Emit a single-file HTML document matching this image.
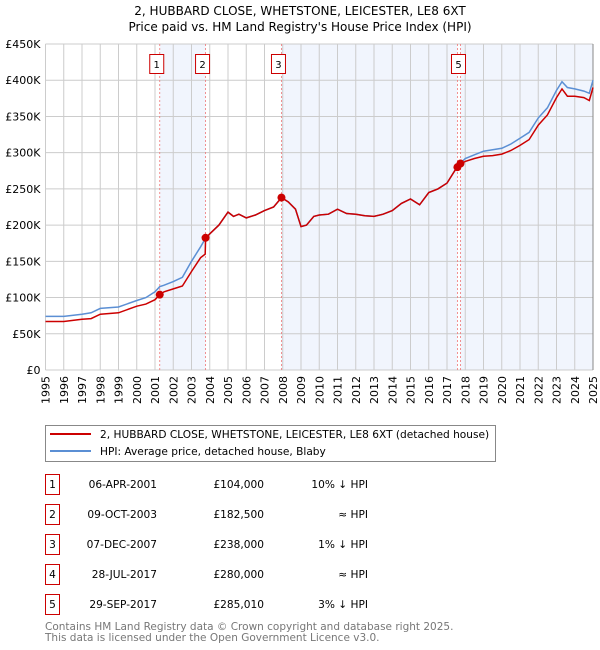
<!DOCTYPE html>
<html><head><meta charset="utf-8"><style>
body{margin:0;background:#fff;}
svg{display:block;font-family:"DejaVu Sans","Liberation Sans",sans-serif;}
</style></head><body>
<svg id="c" width="600" height="650">
<text x="300" y="15" text-anchor="middle" font-size="12">2, HUBBARD CLOSE, WHETSTONE, LEICESTER, LE8 6XT</text>
<text x="300" y="31" text-anchor="middle" font-size="12">Price paid vs. HM Land Registry's House Price Index (HPI)</text>
<g id="plot"></g>
<g>
<rect x="45.5" y="425.5" width="450" height="36" fill="#fff" stroke="#888"/>
<line x1="50" y1="434" x2="91" y2="434" stroke="#cc0000" stroke-width="2"/>
<text x="100" y="438" font-size="10.6">2, HUBBARD CLOSE, WHETSTONE, LEICESTER, LE8 6XT (detached house)</text>
<line x1="50" y1="451" x2="91" y2="451" stroke="#5b8fd4" stroke-width="2"/>
<text x="100" y="455" font-size="10.6">HPI: Average price, detached house, Blaby</text>
</g>
<g id="table"></g>
<text x="45" y="630" font-size="10.5" fill="#777">Contains HM Land Registry data © Crown copyright and database right 2025.</text>
<text x="45" y="641" font-size="10.5" fill="#777">This data is licensed under the Open Government Licence v3.0.</text>
</svg>
<script>
const hpiYears=[1995,1996,1997,1997.5,1998,1999,2000,2000.5,2001,2001.26,2001.5,2002,2002.5,2003,2003.5,2003.77,2004,2004.5,2005,2005.3,2005.6,2006,2006.5,2007,2007.5,2007.93,2008.3,2008.7,2009,2009.3,2009.7,2010,2010.5,2011,2011.5,2012,2012.5,2013,2013.5,2014,2014.5,2015,2015.5,2016,2016.5,2017,2017.6,2018,2018.5,2019,2019.5,2020,2020.5,2021,2021.5,2022,2022.5,2023,2023.3,2023.6,2024,2024.5,2024.8,2025];
const hpiValues=[74,74,77,79,85,87,96,100,108,115,117,122,128,150,170,182,188,200,218,212,215,210,214,220,225,238,232,222,198,200,212,214,215,222,216,215,213,212,215,220,230,236,228,245,250,258,282,292,297,302,304,306,312,320,328,348,362,386,398,390,388,385,382,400];
const redYears=[1995,1996,1997,1997.5,1998,1999,2000,2000.5,2001,2001.26,2001.5,2002,2002.5,2003,2003.5,2003.75,2003.77,2004,2004.5,2005,2005.3,2005.6,2006,2006.5,2007,2007.5,2007.93,2008.3,2008.7,2009,2009.3,2009.7,2010,2010.5,2011,2011.5,2012,2012.5,2013,2013.5,2014,2014.5,2015,2015.5,2016,2016.5,2017,2017.6,2018,2018.5,2019,2019.5,2020,2020.5,2021,2021.5,2022,2022.5,2023,2023.3,2023.6,2024,2024.5,2024.8,2025];
const redValues=[67,67,70,71,77,79,88,91,97,104,108,112,116,136,155,160,182,188,200,218,212,215,210,214,220,225,238,232,222,198,200,212,214,215,222,216,215,213,212,215,220,230,236,228,245,250,258,282,288,292,295,296,298,303,310,318,338,352,376,388,378,378,376,372,390];
const saleYears=[2001.26,2003.77,2007.93,2017.57,2017.74];
const salePrices=[104,182.5,238,280,285.01];
const saleLabels=["1","2","3","4","5"];
const saleDates=["06-APR-2001","09-OCT-2003","07-DEC-2007","28-JUL-2017","29-SEP-2017"];
const salePriceText=["£104,000","£182,500","£238,000","£280,000","£285,010"];
const saleHpiText=["10% ↓ HPI","≈ HPI","1% ↓ HPI","≈ HPI","3% ↓ HPI"];
const yTicks=[0,50,100,150,200,250,300,350,400,450];
const yTickLabels=["£0","£50K","£100K","£150K","£200K","£250K","£300K","£350K","£400K","£450K"];
const xTicks=[1995,1996,1997,1998,1999,2000,2001,2002,2003,2004,2005,2006,2007,2008,2009,2010,2011,2012,2013,2014,2015,2016,2017,2018,2019,2020,2021,2022,2023,2024,2025];

const NS="http://www.w3.org/2000/svg";
const L=45.5,R=593,T=44,B=370;
const xS=v=>L+(v-1995)/30*(R-L);
const yS=v=>B-v/450*(B-T);
const plot=document.getElementById('plot');
function mk(tag,attrs,parent){const e=document.createElementNS(NS,tag);for(const k in attrs)e.setAttribute(k,attrs[k]);(parent||plot).appendChild(e);return e;}

const bg=mk('rect',{x:L,y:T,width:R-L,height:B-T,fill:'#fff'});


const spans=[[0,1],[2,3],[4,-1]];
spans.forEach(s=>{const x1=xS(saleYears[s[0]]);const x2=s[1]<0?R:xS(saleYears[s[1]]);
const r=mk('rect',{x:x1,y:T,width:x2-x1,height:B-T,fill:'#eef3fc',opacity:0.8});

});
xTicks.forEach((t,i)=>{const x=xS(t);
const g=mk('line',{x1:x,y1:T,x2:x,y2:B,stroke:'#cccccc','stroke-width':1});


const tx=mk('text',{x:0,y:0,'font-size':11,'text-anchor':'end',transform:`translate(${x+4},${B+6}) rotate(-90)`});
tx.textContent=t;

});
yTicks.forEach((t,i)=>{const y=yS(t);
const g=mk('line',{x1:L,y1:y,x2:R,y2:y,stroke:'#cccccc','stroke-width':1});


const tx=mk('text',{x:L-5,y:y+4,'font-size':11,'text-anchor':'end'});
tx.textContent=yTickLabels[i];

});
const rb=mk('line',{x1:R,y1:T,x2:R,y2:B,stroke:'#888'});


saleYears.forEach((s,i)=>{const x=xS(s);
const v=mk('line',{x1:x,y1:T,x2:x,y2:B,stroke:'#ee7777','stroke-dasharray':'2,2','stroke-width':0.8});

});
function path(xs,vs){return xs.map((x,i)=>(i?'L':'M')+xS(x).toFixed(1)+','+yS(vs[i]).toFixed(1)).join('');}
const hp=mk('path',{d:path(hpiYears,hpiValues),fill:'none',stroke:'#5b8fd4','stroke-width':1.5});


const rp=mk('path',{d:path(redYears,redValues),fill:'none',stroke:'#cc0000','stroke-width':1.5});


saleYears.forEach((s,i)=>{const x=xS(s),y=yS(salePrices[i]);
const c=mk('circle',{cx:x,cy:y,r:4,fill:'#cc0000'});


if(i===3)return;
const bx=x-(i===4?7:8);
const b=mk('rect',{x:bx-2,y:54.5,width:14,height:19,fill:'#fff',stroke:'#cc0000'});


const t=mk('text',{x:bx+5,y:68,'font-size':10,'text-anchor':'middle'});
t.textContent=saleLabels[i];

});
const tb=document.getElementById('table');
saleLabels.forEach((lab,i)=>{const y=483+i*30;
const b=mk('rect',{x:45.5,y:y-8.5,width:14,height:20,fill:'#fff',stroke:'#cc0000'},tb);


const n=mk('text',{x:52.5,y:y+5,'font-size':10.6,'text-anchor':'middle'},tb);n.textContent=lab;


const d=mk('text',{x:157,y:y+5,'font-size':10.6,'text-anchor':'end'},tb);d.textContent=saleDates[i];


const p=mk('text',{x:264,y:y+5,'font-size':10.6,'text-anchor':'end'},tb);p.textContent=salePriceText[i];


const h=mk('text',{x:368,y:y+5,'font-size':10.6,'text-anchor':'end'},tb);h.textContent=saleHpiText[i];

});
</script>
</body></html>
